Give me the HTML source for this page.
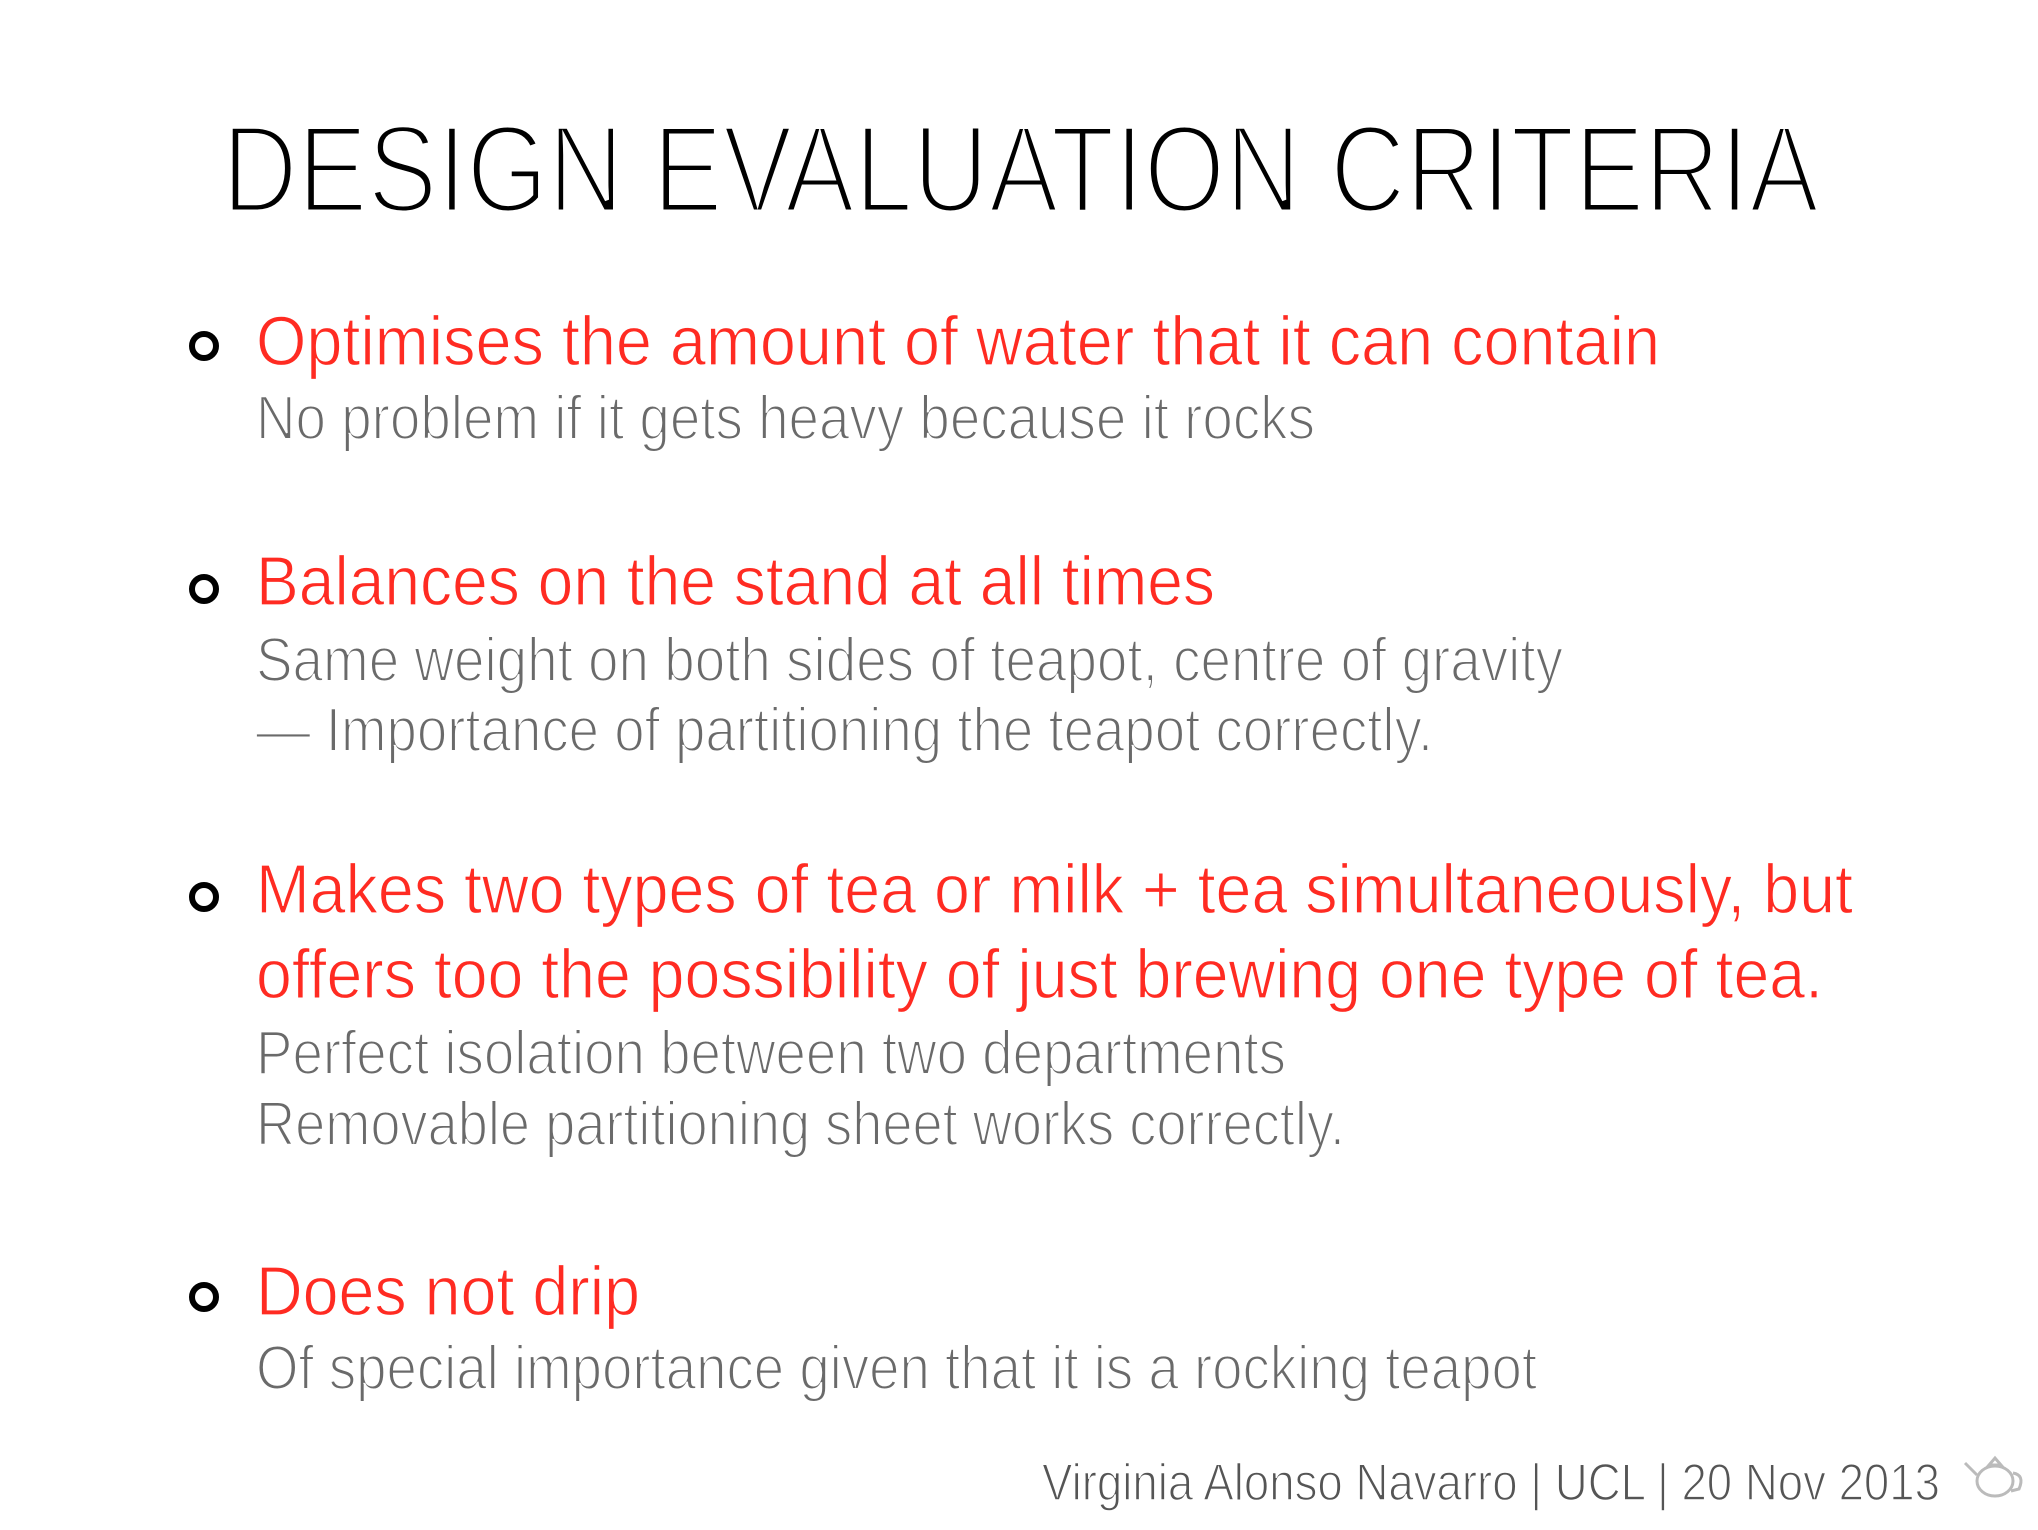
<!DOCTYPE html>
<html><head><meta charset="utf-8"><style>
html,body{margin:0;padding:0;background:#fff;}
svg{display:block;}
text{font-family:"Liberation Sans",sans-serif;}
.r{fill:#ff2b22;font-size:70px;stroke:#fff;stroke-width:1.2px;}
.g{fill:#6a6a6a;font-size:62px;stroke:#fff;stroke-width:2px;}
</style></head><body>
<svg width="2038" height="1530" viewBox="0 0 2038 1530">
<g transform="translate(-3,-5)">
<text x="225" y="217" font-size="124" fill="#000" stroke="#fff" stroke-width="5" textLength="1597" lengthAdjust="spacingAndGlyphs">DESIGN EVALUATION CRITERIA</text>

<g>
<circle cx="207" cy="351" r="12" fill="none" stroke="#000" stroke-width="6"/>
<text class="r" x="259" y="370" textLength="1404" lengthAdjust="spacingAndGlyphs">Optimises the amount of water that it can contain</text>
<text class="g" x="259" y="444" textLength="1059" lengthAdjust="spacingAndGlyphs">No problem if it gets heavy because it rocks</text>
</g>

<g>
<circle cx="207" cy="594" r="12" fill="none" stroke="#000" stroke-width="6"/>
<text class="r" x="259" y="610" textLength="959" lengthAdjust="spacingAndGlyphs">Balances on the stand at all times</text>
<text class="g" x="259" y="686" textLength="1307" lengthAdjust="spacingAndGlyphs">Same weight on both sides of teapot, centre of gravity</text>
<text class="g" x="259" y="756" textLength="1177" lengthAdjust="spacingAndGlyphs">— Importance of partitioning the teapot correctly.</text>
</g>

<g>
<circle cx="207" cy="902" r="12" fill="none" stroke="#000" stroke-width="6"/>
<text class="r" x="259" y="918" textLength="1597" lengthAdjust="spacingAndGlyphs">Makes two types of tea or milk + tea simultaneously, but</text>
<text class="r" x="259" y="1003" textLength="1567" lengthAdjust="spacingAndGlyphs">offers too the possibility of just brewing one type of tea.</text>
<text class="g" x="259" y="1079" textLength="1030" lengthAdjust="spacingAndGlyphs">Perfect isolation between two departments</text>
<text class="g" x="259" y="1150" textLength="1089" lengthAdjust="spacingAndGlyphs">Removable partitioning sheet works correctly.</text>
</g>

<g>
<circle cx="207" cy="1302" r="12" fill="none" stroke="#000" stroke-width="6"/>
<text class="r" x="259" y="1320" textLength="384" lengthAdjust="spacingAndGlyphs">Does not drip</text>
<text class="g" x="259" y="1394" textLength="1281" lengthAdjust="spacingAndGlyphs">Of special importance given that it is a rocking teapot</text>
</g>

<text x="1045" y="1505" font-size="52" fill="#555" stroke="#fff" stroke-width="1.5" textLength="898" lengthAdjust="spacingAndGlyphs">Virginia Alonso Navarro | UCL | 20 Nov 2013</text>
<g fill="none" stroke="#bbb" stroke-width="3">
<ellipse cx="1998" cy="1486" rx="18" ry="15"/>
<path d="M1980 1480 L1968 1468"/>
<path d="M2016 1478 Q2028 1480 2022 1494 L2014 1496"/>
<path d="M1992 1470 L2004 1470 L1998 1463 Z"/>
</g>
</g>
</svg>
</body></html>
